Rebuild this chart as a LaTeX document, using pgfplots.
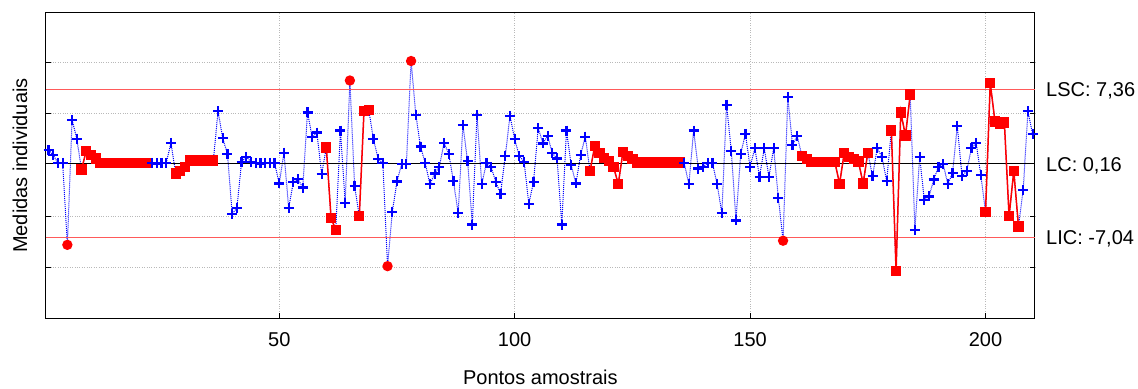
\documentclass[border=0pt]{standalone}
\usepackage{pgfplots}
\pgfplotsset{compat=1.18}
\usepackage{pgfplotstable}
\usepackage{fontspec}
\setmainfont{Liberation Sans}

\definecolor{cRed}{RGB}{255,0,0}
\definecolor{cLim}{RGB}{255,90,90}
\definecolor{cBlue}{RGB}{0,0,255}
\definecolor{cGrid}{RGB}{185,185,185}

\newcommand\lbl{\fontsize{20}{24}\selectfont}

% c: 0 = normal, 1 = run rule, 2 = beyond limits
\pgfplotstableread[row sep=\\]{
x y c\\
1 1.46 0\\ 2 0.97 0\\ 3 0.20 0\\ 4 0.20 0\\ 5 -7.78 2\\
6 4.40 0\\ 7 2.57 0\\ 8 -0.44 1\\ 9 1.36 1\\ 10 0.97 1\\
11 0.64 1\\ 12 0.22 1\\ 13 0.22 1\\ 14 0.22 1\\ 15 0.22 1\\
16 0.22 1\\ 17 0.22 1\\ 18 0.22 1\\ 19 0.22 1\\ 20 0.22 1\\
21 0.22 1\\ 22 0.22 1\\ 23 0.20 0\\ 24 0.15 0\\ 25 0.20 0\\
26 0.20 0\\ 27 2.17 0\\ 28 -0.83 1\\ 29 -0.55 1\\ 30 -0.20 1\\
31 0.45 1\\ 32 0.45 1\\ 33 0.45 1\\ 34 0.45 1\\ 35 0.45 1\\
36 0.45 1\\ 37 5.23 0\\ 38 2.60 0\\ 39 1.07 0\\ 40 -4.75 0\\
41 -4.20 0\\ 42 0.30 0\\ 43 0.80 0\\ 44 0.30 0\\ 45 0.20 0\\
46 0.15 0\\ 47 0.20 0\\ 48 0.20 0\\ 49 0.20 0\\ 50 -1.80 0\\
51 1.20 0\\ 52 -4.20 0\\ 53 -1.65 0\\ 54 -1.40 0\\ 55 -2.20 0\\
56 5.13 0\\ 57 2.70 0\\ 58 3.17 0\\ 59 -0.90 0\\ 60 1.70 1\\
61 -5.15 1\\ 62 -6.33 1\\ 63 3.36 0\\ 64 -3.68 0\\ 65 8.24 2\\
66 -2.04 0\\ 67 -4.99 1\\ 68 5.30 1\\ 69 5.40 1\\ 70 2.54 0\\
71 0.60 0\\ 72 0.20 0\\ 73 -9.86 2\\ 74 -4.60 0\\ 75 -1.60 0\\
76 0.10 0\\ 77 0.10 0\\ 78 10.14 2\\ 79 4.90 0\\ 80 1.80 0\\
81 0.20 0\\ 82 -1.88 0\\ 83 -0.83 0\\ 84 -0.17 0\\ 85 2.17 0\\
86 1.07 0\\ 87 -1.58 0\\ 88 -4.70 0\\ 89 3.90 0\\ 90 0.41 0\\
91 -5.80 0\\ 92 4.90 0\\ 93 -1.88 0\\ 94 0.20 0\\ 95 -0.20 0\\
96 -1.65 0\\ 97 -2.80 0\\ 98 0.87 0\\ 99 4.80 0\\ 100 2.50 0\\
101 0.87 0\\ 102 0.32 0\\ 103 -3.78 0\\ 104 -1.65 0\\ 105 3.60 0\\
106 2.10 0\\ 107 2.84 0\\ 108 1.14 0\\ 109 0.64 0\\ 110 -5.80 0\\
111 3.36 0\\ 112 0.00 0\\ 113 -1.80 0\\ 114 0.97 0\\ 115 2.77 0\\
116 -0.60 1\\ 117 1.85 1\\ 118 1.20 1\\ 119 0.70 1\\ 120 0.40 1\\
121 -0.20 1\\ 122 -1.85 1\\ 123 1.30 1\\ 124 0.85 1\\ 125 0.55 1\\
126 0.25 1\\ 127 0.25 1\\ 128 0.25 1\\ 129 0.25 1\\ 130 0.25 1\\
131 0.25 1\\ 132 0.25 1\\ 133 0.25 1\\ 134 0.25 1\\ 135 0.25 1\\
136 0.20 0\\ 137 -1.88 0\\ 138 3.36 0\\ 139 -0.34 0\\ 140 -0.17 0\\
141 0.20 0\\ 142 0.20 0\\ 143 -1.88 0\\ 144 -4.70 0\\ 145 5.88 0\\
146 1.40 0\\ 147 -5.40 0\\ 148 1.07 0\\ 149 3.03 0\\ 150 -0.17 0\\
151 1.63 0\\ 152 -1.15 0\\ 153 1.63 0\\ 154 -1.15 0\\ 155 1.63 0\\
156 -3.20 0\\ 157 -7.38 2\\ 158 6.64 0\\ 159 1.95 0\\ 160 2.84 0\\
161 0.90 1\\ 162 0.60 1\\ 163 0.28 1\\ 164 0.28 1\\ 165 0.28 1\\
166 0.28 1\\ 167 0.28 1\\ 168 0.28 1\\ 169 -1.82 1\\ 170 1.20 1\\
171 0.80 1\\ 172 0.55 1\\ 173 0.35 1\\ 174 -1.80 1\\ 175 1.20 1\\
176 -1.10 0\\ 177 1.63 0\\ 178 0.80 0\\ 179 -1.55 0\\ 180 3.36 1\\
181 -10.30 1\\ 182 5.13 1\\ 183 2.87 1\\ 184 6.87 1\\ 185 -6.33 0\\
186 0.80 0\\ 187 -3.40 0\\ 188 -3.06 0\\ 189 -1.42 0\\ 190 -0.17 0\\
191 0.09 0\\ 192 -1.88 0\\ 193 -0.76 0\\ 194 3.82 0\\ 195 -1.09 0\\
196 -0.57 0\\ 197 1.63 0\\ 198 2.17 0\\ 199 -0.99 0\\ 200 -4.60 1\\
201 8.00 1\\ 202 4.25 1\\ 203 4.00 1\\ 204 4.15 1\\ 205 -5.00 1\\
206 -0.57 1\\ 207 -6.00 1\\ 208 -2.40 0\\ 209 5.23 0\\ 210 3.00 0\\
}\pts

\begin{document}
\begin{tikzpicture}
\begin{axis}[
  name=ax,
  scale only axis, width=989pt, height=305.6pt,
  xmin=0.4, xmax=210.5, ymin=-14.95, ymax=14.85,
  clip=false,
  axis line style={black, line width=1pt},
  xtick={50,100,150,200}, xtick pos=bottom,
  ytick={-10,-5,5,10}, ytick pos=both, yticklabels={},
  tick align=inside, major tick length=5pt,
  tick style={black, line width=1pt},
  grid=major, major grid style={cGrid, dotted, line width=1pt},
  /pgf/number format/assume math mode=true,
  xticklabel style={font=\lbl, anchor=base, yshift=-27.7pt, inner sep=0pt},
  xlabel={Pontos amostrais},
  ylabel={Medidas individuais},
  every axis x label/.style={at={(rel axis cs:0.5,-0.215)}, anchor=base, font=\lbl},
  every axis y label/.style={at={(rel axis cs:-0.0185,0.5)}, anchor=south, rotate=90, inner sep=0pt, font=\lbl},
]
% blue dotted line through all points
\addplot[color=cBlue, densely dotted, line width=1pt, mark=none] table[x=x, y=y] {\pts};

% control limits and centre line
\addplot[color=cLim, line width=0.9pt, mark=none] table[row sep=\\] {x y\\ 0.4 7.36\\ 210.5 7.36\\};
\addplot[color=cLim, line width=0.9pt, mark=none] table[row sep=\\] {x y\\ 0.4 -7.04\\ 210.5 -7.04\\};
\addplot[color=black, line width=1pt, mark=none] table[row sep=\\] {x y\\ 0.4 0.16\\ 210.5 0.16\\};

% red solid segments between flagged points
\addplot[color=cRed, line width=1.5pt, mark=none, unbounded coords=jump,
  restrict expr to domain={\thisrow{c}}{0.5:1.5}] table[x=x, y=y] {\pts};

\addplot[scatter, only marks, line width=2.2pt, point meta=explicit symbolic,
  scatter/classes={
    0={mark=+, mark size=5pt, draw=cBlue},
    1={mark=square*, mark size=4pt, draw=cRed, fill=cRed},
    2={mark=*, mark size=4pt, draw=cRed, fill=cRed}}]
  table[x=x, y=y, meta=c] {\pts};

\node[anchor=base west, font=\lbl, inner sep=0pt, xshift=11pt, yshift=-7pt] at (axis cs:210.5,7.36) {LSC: 7,36};
\node[anchor=base west, font=\lbl, inner sep=0pt, xshift=11pt, yshift=-8pt] at (axis cs:210.5,0.16) {LC: 0,16};
\node[anchor=base west, font=\lbl, inner sep=0pt, xshift=11pt, yshift=-7pt] at (axis cs:210.5,-7.04) {LIC: -7,04};
\end{axis}
\pgfresetboundingbox
\path[use as bounding box] ([xshift=-45.7pt, yshift=-69.7pt]ax.south west) rectangle ([xshift=103pt, yshift=12.7pt]ax.north east);
\end{tikzpicture}
\end{document}
